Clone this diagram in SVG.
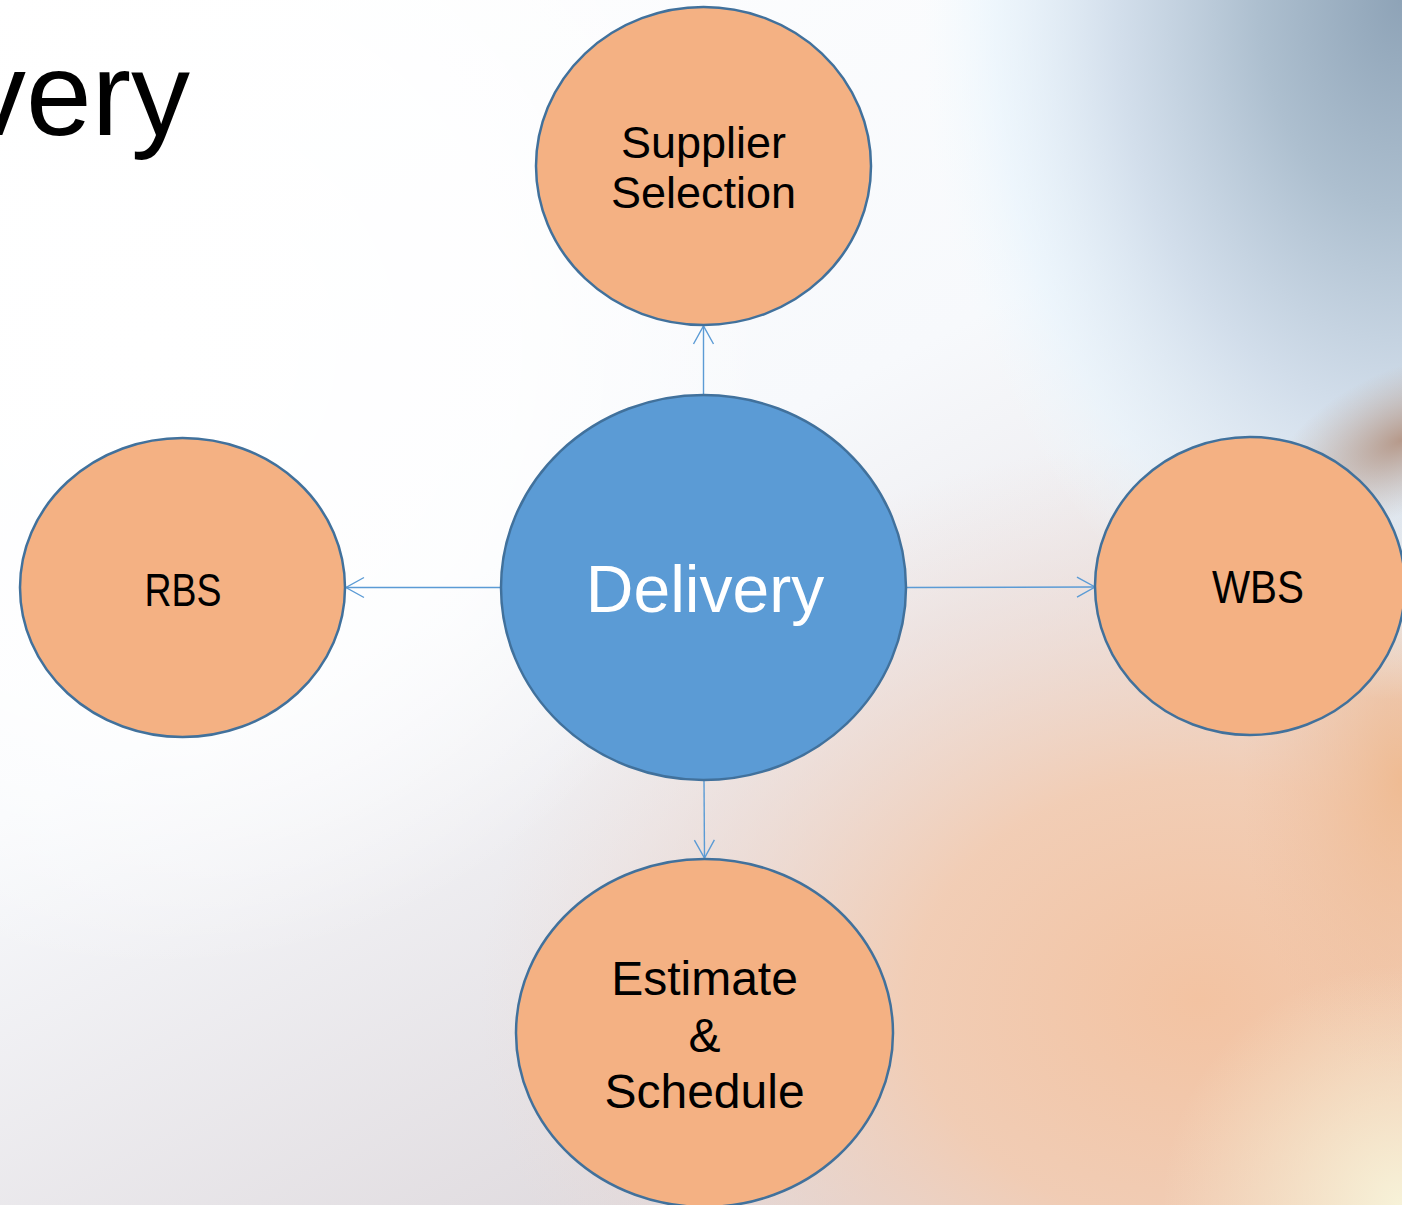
<svg xmlns="http://www.w3.org/2000/svg" width="1402" height="1205" viewBox="0 0 1402 1205">
  <defs>
    <style>
      .node-o { fill: #f4b183; stroke: #41719c; stroke-width: 2.5; }
      .node-b { fill: #5b9bd5; stroke: #41719c; stroke-width: 2.5; }
      .lbl { font-family: "Liberation Sans", Arial, sans-serif; fill: #000; text-anchor: middle; }
      .lbl-w { font-family: "Liberation Sans", Arial, sans-serif; fill: #fff; text-anchor: middle; }
      .conn { stroke: #5b9bd5; stroke-width: 1.4; fill: none; }
    </style>
    <marker id="arrow" viewBox="-20 -12 22 24" refX="0" refY="0" markerWidth="22" markerHeight="24" markerUnits="userSpaceOnUse" orient="auto">
      <path d="M -18 -10 L 0 0 L -18 10" fill="none" stroke="#5b9bd5" stroke-width="1.4"/>
    </marker>
    <!-- backdrop washes -->
    <linearGradient id="bgBase" x1="0" y1="0" x2="0.6" y2="1">
      <stop offset="0" stop-color="#ffffff"/>
      <stop offset="0.5" stop-color="#f7f9fc"/>
      <stop offset="1" stop-color="#dcd6da"/>
    </linearGradient>
    <radialGradient id="blueWash" cx="1402" cy="0" r="1" gradientUnits="userSpaceOnUse"
                    gradientTransform="translate(1402 0) scale(480 700) translate(-1402 0)">
      <stop offset="0" stop-color="#8ea3b7"/>
      <stop offset="0.3" stop-color="#adbfcf"/>
      <stop offset="0.6" stop-color="#cfdcea" stop-opacity="0.9"/>
      <stop offset="0.85" stop-color="#e6f3fc" stop-opacity="0.6"/>
      <stop offset="1" stop-color="#effaff" stop-opacity="0"/>
    </radialGradient>
    <radialGradient id="peachWash" cx="1200" cy="1000" r="1" gradientUnits="userSpaceOnUse"
                    gradientTransform="translate(1200 1000) scale(720 560) translate(-1200 -1000)">
      <stop offset="0" stop-color="#f3c3a2"/>
      <stop offset="0.4" stop-color="#f3cbb0" stop-opacity="0.9"/>
      <stop offset="0.75" stop-color="#eed6cc" stop-opacity="0.45"/>
      <stop offset="1" stop-color="#eedcd6" stop-opacity="0"/>
    </radialGradient>
    <radialGradient id="orangeEdge" cx="1402" cy="780" r="1" gradientUnits="userSpaceOnUse"
                    gradientTransform="translate(1402 780) scale(160 300) translate(-1402 -780)">
      <stop offset="0" stop-color="#efb98e" stop-opacity="0.9"/>
      <stop offset="1" stop-color="#f0c0a0" stop-opacity="0"/>
    </radialGradient>
    <radialGradient id="creamCorner" cx="1402" cy="1205" r="240" gradientUnits="userSpaceOnUse">
      <stop offset="0" stop-color="#f7f2d8"/>
      <stop offset="1" stop-color="#f5ead0" stop-opacity="0"/>
    </radialGradient>
    <radialGradient id="brownEdge" cx="1402" cy="440" r="1" gradientUnits="userSpaceOnUse"
                    gradientTransform="translate(1402 440) rotate(-25) scale(140 70) translate(-1402 -440)">
      <stop offset="0" stop-color="#b08c78" stop-opacity="0.85"/>
      <stop offset="1" stop-color="#c0a898" stop-opacity="0"/>
    </radialGradient>
    <radialGradient id="whiteLeft" cx="150" cy="350" r="620" gradientUnits="userSpaceOnUse">
      <stop offset="0" stop-color="#ffffff"/>
      <stop offset="0.6" stop-color="#ffffff" stop-opacity="0.75"/>
      <stop offset="1" stop-color="#ffffff" stop-opacity="0"/>
    </radialGradient>
  </defs>

  <!-- background -->
  <rect x="0" y="0" width="1402" height="1205" fill="url(#bgBase)"/>
  <rect x="0" y="0" width="1402" height="1205" fill="url(#peachWash)"/>
  <rect x="0" y="0" width="1402" height="1205" fill="url(#orangeEdge)"/>
  <rect x="0" y="0" width="1402" height="1205" fill="url(#blueWash)"/>
  <rect x="0" y="0" width="1402" height="1205" fill="url(#brownEdge)"/>
  <rect x="0" y="0" width="1402" height="1205" fill="url(#creamCorner)"/>
  <rect x="0" y="0" width="1402" height="1205" fill="url(#whiteLeft)"/>

  <!-- slide title, running off the left edge -->
  <text x="190" y="135" font-family="'Liberation Sans', Arial, sans-serif" font-size="118" text-anchor="end" fill="#000">Delivery</text>

  <!-- connectors -->
  <g id="connectors">
    <line class="conn" x1="703.5" y1="395" x2="703.5" y2="326" marker-end="url(#arrow)"/>
    <line class="conn" x1="501" y1="587.5" x2="346" y2="587.5" marker-end="url(#arrow)"/>
    <line class="conn" x1="906" y1="587.5" x2="1095" y2="587" marker-end="url(#arrow)"/>
    <line class="conn" x1="704" y1="780" x2="704.5" y2="858" marker-end="url(#arrow)"/>
  </g>

  <!-- nodes -->
  <g id="supplier-selection">
    <ellipse class="node-o" cx="703.5" cy="166" rx="167.5" ry="159"/>
    <text class="lbl" x="703.5" y="158" font-size="45">Supplier</text>
    <text class="lbl" x="703.5" y="208" font-size="45">Selection</text>
  </g>

  <g id="delivery">
    <ellipse class="node-b" cx="703.5" cy="587.5" rx="202.5" ry="192.5"/>
    <text class="lbl-w" x="705" y="612" font-size="66">Delivery</text>
  </g>

  <g id="rbs">
    <ellipse class="node-o" cx="182.5" cy="587.5" rx="162.5" ry="149.5"/>
    <text class="lbl" x="183" y="606" font-size="46" textLength="77" lengthAdjust="spacingAndGlyphs">RBS</text>
  </g>

  <g id="wbs">
    <ellipse class="node-o" cx="1250" cy="586" rx="155" ry="149"/>
    <text class="lbl" x="1258" y="603" font-size="46" textLength="92" lengthAdjust="spacingAndGlyphs">WBS</text>
  </g>

  <g id="estimate-schedule">
    <ellipse class="node-o" cx="704.5" cy="1033" rx="188.5" ry="174"/>
    <text class="lbl" x="704.5" y="995" font-size="48">Estimate</text>
    <text class="lbl" x="704.5" y="1052" font-size="48">&amp;</text>
    <text class="lbl" x="704.5" y="1108" font-size="48">Schedule</text>
  </g>
</svg>
